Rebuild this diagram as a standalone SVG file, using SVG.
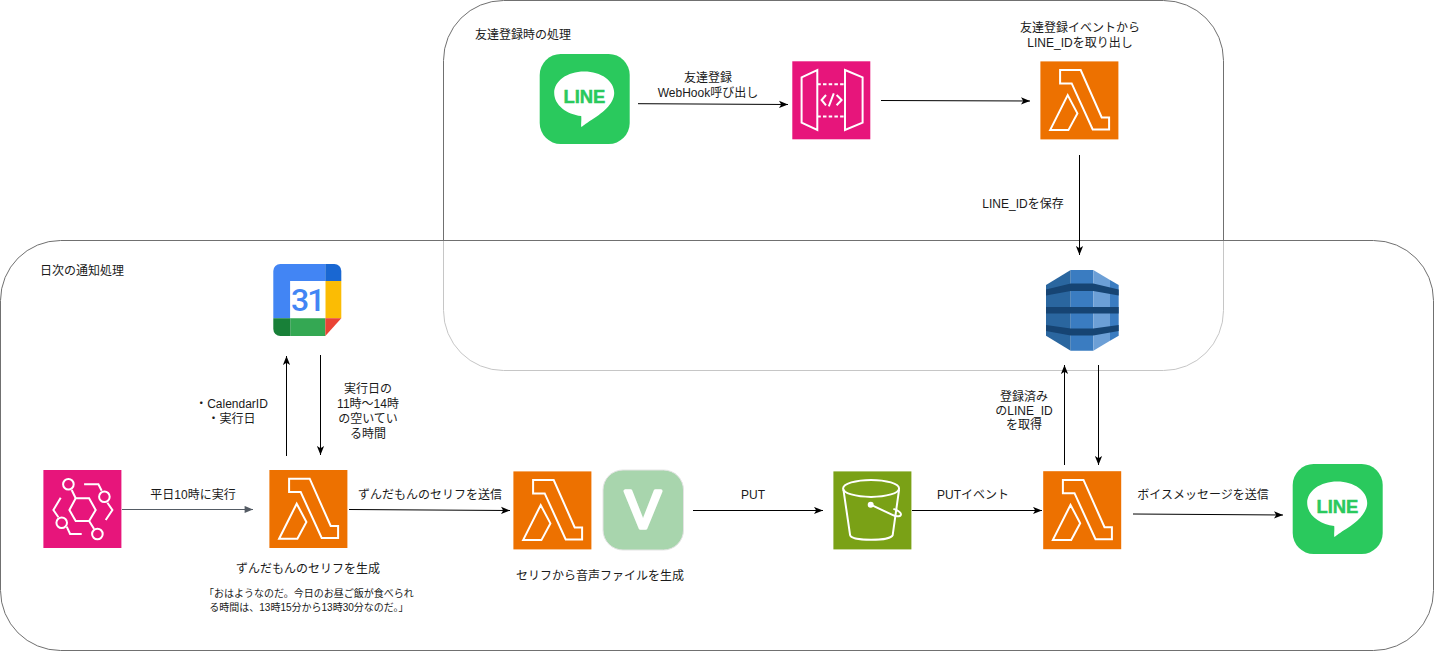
<svg xmlns="http://www.w3.org/2000/svg" width="1435" height="652" viewBox="0 0 1435 652">
<style>
text{font-family:"Liberation Sans","Noto Sans CJK JP",sans-serif;font-size:12px;fill:#1a1a1a}
.m{text-anchor:middle}
.s{font-size:10px}
.box{fill:none;stroke:#707070;stroke-width:1}
.c{fill:none;stroke:#000;stroke-width:1}
.g{fill:none;stroke:#545b64;stroke-width:1}
.w{fill:none;stroke:#fff;stroke-width:2;stroke-linejoin:miter}
.logo{font-size:18.4px;font-weight:700;fill:#2ac95d;stroke:#2ac95d;stroke-width:.5;text-anchor:middle}
</style>
<defs>
<marker id="ab" markerUnits="userSpaceOnUse" markerWidth="10" markerHeight="8" refX="9" refY="4" orient="auto"><path d="M0,0.4 L9,4 L0,7.6 L2.2,4 Z" fill="#000"/></marker>
<marker id="ag" markerUnits="userSpaceOnUse" markerWidth="10" markerHeight="8" refX="9" refY="4" orient="auto"><path d="M0.6,0.4 L9,4 L0.6,7.6 Z" fill="#545b64"/></marker>
<g id="lambda"><rect width="78" height="78" fill="#ed7100"/><path class="w" d="M19.7,8.7H40.3L61.3,56H68.7V68H52.3L31.3,22H19.7Z"/><path class="w" d="M9.7,68.7L27.3,33.7L37,52L28,68.7Z"/></g>
<g id="line"><rect width="90" height="90" rx="21" fill="#2ac95d"/><path d="M44.5,17.5C61.5,17.5 74.5,27 74.5,39C74.5,50 62,60 50,67C46.5,69.5 42.5,72.5 41.7,73C41,71.5 42,66 41.5,62C27,60.5 14.5,51 14.5,39C14.5,27 27.5,17.5 44.5,17.5Z" fill="#fff"/><text class="logo" x="44.7" y="48.5">LINE</text></g>
</defs>

<g id="containers">
<rect id="friend-box" class="box" x="443.5" y="0.5" width="780" height="370" rx="60"/>
<rect id="daily-box" class="box" style="fill:#fff;fill-opacity:.6" x="0.5" y="240.5" width="1433" height="410" rx="60"/>
<text x="475" y="39">友達登録時の処理</text>
<text x="40" y="275">日次の通知処理</text>
</g>

<g id="connectors">
<path class="c" marker-end="url(#ab)" d="M638,103.7L788,104.5"/>
<path class="c" marker-end="url(#ab)" d="M881,100.5L1030,101"/>
<path class="c" marker-end="url(#ab)" d="M1079.5,155V255"/>
<path class="c" marker-end="url(#ab)" d="M1098.5,365V465"/>
<path class="c" marker-end="url(#ab)" d="M1064.5,465V365"/>
<path class="g" marker-end="url(#ag)" d="M122,509.5H253"/>
<path class="c" marker-end="url(#ab)" d="M286.5,456V356"/>
<path class="c" marker-end="url(#ab)" d="M320.5,355V455"/>
<path class="c" marker-end="url(#ab)" d="M349,509.5L510,510.5"/>
<path class="c" marker-end="url(#ab)" d="M693,510.5H823"/>
<path class="c" marker-end="url(#ab)" d="M912,510.5H1042"/>
<path class="c" marker-end="url(#ab)" d="M1133,514L1283,515"/>
<text class="m" x="708" y="81.5">友達登録</text>
<text class="m" x="708" y="96.5">WebHook呼び出し</text>
<text class="m" x="1023" y="208">LINE_IDを保存</text>
<text class="m" x="1024" y="401">登録済み</text>
<text class="m" x="1024" y="415">のLINE_ID</text>
<text class="m" x="1024" y="429">を取得</text>
<text class="m" x="231.5" y="408">・CalendarID</text>
<text class="m" x="231.5" y="423">・実行日</text>
<text class="m" x="368" y="393">実行日の</text>
<text class="m" x="368" y="408">11時～14時</text>
<text class="m" x="368" y="423">の空いてい</text>
<text class="m" x="368" y="438">る時間</text>
<text class="m" x="193" y="499">平日10時に実行</text>
<text class="m" x="430" y="499">ずんだもんのセリフを送信</text>
<text class="m" x="753" y="499">PUT</text>
<text class="m" x="973" y="499">PUTイベント</text>
<text class="m" x="1203" y="499">ボイスメッセージを送信</text>
</g>

<g id="line-top" transform="translate(539.7,54)"><use href="#line"/></g>

<g id="api-gateway" transform="translate(792.3,61.3)">
<rect width="78" height="78" fill="#e7157b"/>
<path class="w" d="M9.3,16L25,8.7V68.7L9.3,61.3Z"/>
<path class="w" d="M52.7,8.7L70.3,16V61.3L52.7,68.7Z"/>
<path class="w" stroke-dasharray="3.5 2.2" d="M25,23H52.7M25,55.3H52.7"/>
<path class="w" d="M33.7,33.7L29.3,38.7L33.7,44M36.5,45L41.5,32M44.3,33.7L49.3,38.7L44.3,44"/>
</g>

<g id="lambda-extract" transform="translate(1040.4,61.4)"><use href="#lambda"/>
<text class="m" x="39.6" y="-29">友達登録イベントから</text>
<text class="m" x="39.6" y="-14">LINE_IDを取り出し</text>
</g>

<g id="dynamodb" transform="translate(1046,270)">
<path d="M0,15L24.7,0V80.7L0,65.7Z" fill="#2a669f"/>
<path d="M24.7,0H47.3V80.7H24.7Z" fill="#3a7cc1"/>
<path d="M47.3,0L64,10V70.7L47.3,80.7Z" fill="#6c9fd6"/>
<path d="M64,10L72.7,15V65.7L64,70.7Z" fill="#3a7cc1"/>
<path d="M0,19.5L24.7,13.5H47.3L72.7,19.5V25.5L47.3,21H24.7L0,25.5Z" fill="#164473"/>
<path d="M0,37H72.7V43.5H0Z" fill="#164473"/>
<path d="M0,55L24.7,58.5H47.3L72.7,55V61L47.3,65.5H24.7L0,61Z" fill="#164473"/>
</g>

<g id="eventbridge" transform="translate(43.4,470)">
<rect width="78" height="78" fill="#e7157b"/>
<path class="w" d="M26,40L32.3,28.3H45.7L52.3,40L45.7,51H32.3Z"/>
<circle class="w" cx="25" cy="14.3" r="5.3"/><circle class="w" cx="61" cy="26.7" r="5.3"/><circle class="w" cx="18.3" cy="52.7" r="5.3"/><circle class="w" cx="54" cy="64" r="5.3"/>
<path class="w" d="M28.3,20L32.3,28.3M40.7,14.3H55L58.3,20.7M64,32.7L69,40L62.3,50M17.3,27.7L10,40L15,47.3M23.3,56.7L26.7,64H38.3M45.7,51L50.7,59"/>
</g>

<g id="lambda-serif" transform="translate(269.4,470)"><use href="#lambda"/>
<text class="m" x="38.6" y="103">ずんだもんのセリフを生成</text>
<text class="m s" x="39.5" y="126.7">「おはようなのだ。今日のお昼ご飯が食べられ</text>
<text class="m s" x="39.5" y="141">る時間は、13時15分から13時30分なのだ。」</text>
</g>

<g id="google-calendar" transform="translate(273.3,264)">
<path d="M7,0H52V17H17V54.3H0V7A7,7 0 0 1 7,0Z" fill="#4285f4"/>
<path d="M52,0H61A7,7 0 0 1 68,7V17H52Z" fill="#1967d2"/>
<rect x="52" y="17" width="16" height="37.3" fill="#fbbc04"/>
<rect x="17" y="17" width="35" height="37.3" fill="#fff"/>
<path d="M17,54.3H52V72H17Z" fill="#34a853"/>
<path d="M0,54.3H17V72H7A7,7 0 0 1 0,65Z" fill="#188038"/>
<path d="M52,54.3H68L52,72Z" fill="#ea4335"/>
<text x="34" y="47" text-anchor="middle" style="font-family:Roboto,sans-serif;font-size:32px;font-weight:500;letter-spacing:-2px;fill:#4285f4">31</text>
</g>

<g id="lambda-voice" transform="translate(513.4,471.4)"><use href="#lambda"/></g>

<g id="voicevox">
<rect x="603" y="470" width="80.5" height="80" rx="20" fill="#a8d5ad" stroke="#e4e4e4" stroke-width="1"/>
<text x="643" y="528.3" text-anchor="middle" style="font-size:54px;fill:#fff;stroke:#fff;stroke-width:3.5;stroke-linejoin:round">V</text>
<text class="m" x="600" y="580">セリフから音声ファイルを生成</text>
</g>

<g id="s3" transform="translate(833.4,471.4)">
<rect width="78" height="78" fill="#7aa116"/>
<ellipse class="w" cx="37.7" cy="17" rx="28" ry="8.5"/>
<path class="w" d="M10,18L16.7,63.7C18,70 57,70 59.3,63.7L65.7,18"/>
<circle cx="37.3" cy="33.3" r="3" fill="#fff"/>
<path class="w" d="M37.3,33.3L59,43.5C64,46 68,45 67.5,42.5C67,40 63,38.5 60,37.5"/>
</g>

<g id="lambda-send" transform="translate(1043.2,471.2)"><use href="#lambda"/></g>

<g id="line-bottom" transform="translate(1292.7,464)"><use href="#line"/></g>
</svg>
